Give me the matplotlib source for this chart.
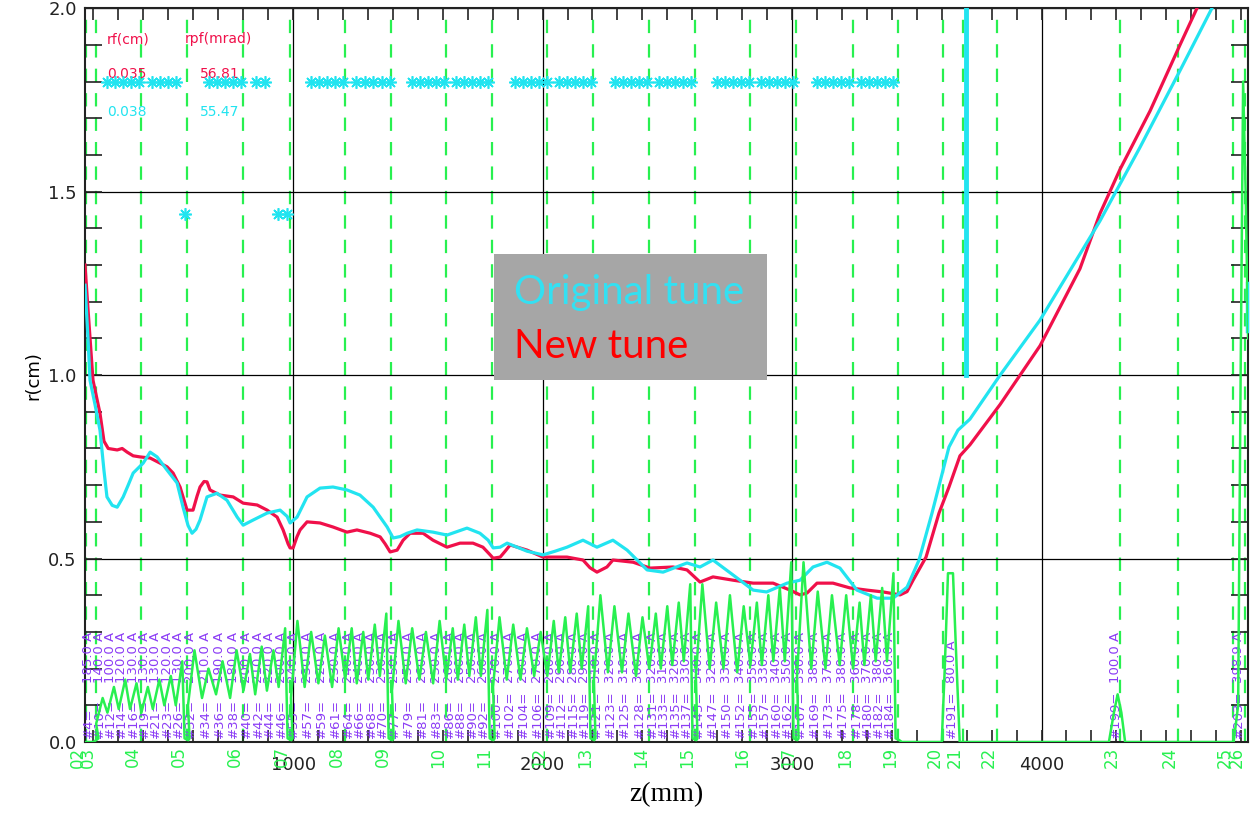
import numpy as np
import matplotlib.pyplot as plt
from matplotlib.ticker import MultipleLocator
from matplotlib.patches import Rectangle
import matplotlib.transforms as mtransforms

RED = '#f0104a'
CYAN = '#22e4f0'
GREEN = '#28f050'
PURPLE = '#8b3cf5'

# beamline elements (green dashed markers), z in mm
elem_names = ['02', '03', '04', '05', '06', '07', '08', '09', '10', '11', '12', '13', '14',
              '15', '16', '17', '18', '19', '20', '21', '22', '23', '24', '25', '26']
elem_z = [170, 210, 391, 575, 800, 988, 1208, 1393, 1613, 1798, 2018, 2202, 2427,
          2611, 2832, 3016, 3244, 3425, 3605, 3685, 3822, 4315, 4547, 4768, 4816]

# beam envelope, new tune
red_z = [166, 178, 198, 226, 242, 259, 295, 315, 335, 359, 387, 427, 467, 495, 519, 547, 567, 575,
         599, 615, 627, 643, 655, 667, 707, 760, 800, 856, 896, 936, 960, 980, 988, 1000, 1016,
         1028, 1056, 1108, 1160, 1216, 1256, 1309, 1349, 1369, 1389, 1417, 1441, 1469, 1521,
         1561, 1617, 1669, 1721, 1761, 1790, 1802, 1830, 1850, 1870, 1938, 2002, 2098, 2162,
         2190, 2218, 2258, 2282, 2363, 2431, 2523, 2579, 2631, 2683, 2764, 2844, 2924, 2992,
         3032, 3060, 3100, 3164, 3232, 3300, 3365, 3433, 3461, 3485, 3509, 3537, 3589, 3629,
         3673, 3713, 3834, 3994, 4154, 4234, 4314, 4435, 4555, 4623, 4680]
red_r = [1.30, 1.18, 0.986, 0.896, 0.82, 0.80, 0.796, 0.80, 0.79, 0.78, 0.777, 0.774, 0.76, 0.75,
         0.733, 0.695, 0.65, 0.632, 0.632, 0.67, 0.695, 0.71, 0.709, 0.687, 0.673, 0.668, 0.651,
         0.646, 0.632, 0.613, 0.578, 0.54, 0.529, 0.529, 0.56, 0.578, 0.60, 0.597, 0.586, 0.572,
         0.578, 0.569, 0.559, 0.54, 0.518, 0.523, 0.55, 0.569, 0.569, 0.55, 0.531, 0.542, 0.542,
         0.531, 0.51, 0.501, 0.504, 0.52, 0.537, 0.523, 0.504, 0.504, 0.496, 0.475, 0.463, 0.477,
         0.496, 0.49, 0.474, 0.477, 0.469, 0.436, 0.45, 0.441, 0.433, 0.433, 0.414, 0.401, 0.406,
         0.433, 0.433, 0.42, 0.414, 0.409, 0.401, 0.41, 0.441, 0.47, 0.504, 0.624, 0.695, 0.78,
         0.81, 0.92, 1.08, 1.29, 1.44, 1.56, 1.72, 1.90, 2.0, 2.1]

# beam envelope, original tune
cyan_z = [166, 178, 186, 206, 226, 242, 254, 275, 295, 319, 339, 359, 399, 427, 455, 495, 535,
          559, 579, 595, 611, 627, 655, 695, 735, 776, 800, 840, 896, 948, 976, 988, 1016, 1056,
          1108, 1160, 1216, 1268, 1321, 1377, 1401, 1429, 1457, 1497, 1561, 1617, 1697, 1749,
          1782, 1802, 1830, 1858, 1938, 2002, 2050, 2098, 2162, 2218, 2282, 2339, 2419, 2483,
          2579, 2631, 2683, 2764, 2844, 2898, 2980, 3032, 3084, 3140, 3192, 3260, 3341, 3405,
          3461, 3509, 3561, 3629, 3665, 3713, 3834, 3994, 4154, 4234, 4394, 4555, 4683, 4720]
cyan_r = [1.245, 1.10, 0.986, 0.92, 0.85, 0.74, 0.668, 0.645, 0.64, 0.668, 0.70, 0.733, 0.76,
          0.79, 0.777, 0.741, 0.706, 0.64, 0.59, 0.569, 0.58, 0.605, 0.668, 0.678, 0.659, 0.613,
          0.591, 0.605, 0.624, 0.632, 0.615, 0.597, 0.613, 0.668, 0.692, 0.695, 0.687, 0.673,
          0.64, 0.586, 0.556, 0.56, 0.569, 0.578, 0.572, 0.564, 0.583, 0.569, 0.55, 0.529, 0.531,
          0.542, 0.52, 0.51, 0.52, 0.531, 0.55, 0.531, 0.55, 0.523, 0.469, 0.463, 0.488, 0.477,
          0.496, 0.455, 0.414, 0.409, 0.433, 0.441, 0.477, 0.49, 0.474, 0.414, 0.392, 0.392,
          0.422, 0.496, 0.624, 0.804, 0.85, 0.88, 1.0, 1.15, 1.33, 1.42, 1.62, 1.83, 2.0, 2.06]
cyan_bar_z = [3697, 3697]
cyan_bar_r = [1.0, 2.0]
cyan_edge_z = [4822, 4822]
cyan_edge_r = [1.12, 1.25]

# solenoid currents: 8 coils per pair of element gaps from 03 to 19
coil_ids = [10, 12, 14, 16, 19, 21, 23, 26,
            32, 34, 36, 38, 40, 42, 44, 46,
            55, 57, 59, 61, 64, 66, 68, 70,
            77, 79, 81, 83, 86, 88, 90, 92,
            100, 102, 104, 106, 109, 112, 115, 119,
            121, 123, 125, 128, 131, 133, 135, 137,
            145, 147, 150, 152, 155, 157, 160, 162,
            167, 169, 173, 175, 178, 180, 182, 184]
coil_amps = [140.0, 100.0, 120.0, 130.0, 130.0, 130.0, 120.0, 130.0,
             200.0, 210.0, 190.0, 180.0, 200.0, 210.0, 220.0, 200.0,
             240.0, 230.0, 220.0, 230.0, 240.0, 240.0, 230.0, 230.0,
             250.0, 250.0, 260.0, 250.0, 260.0, 260.0, 250.0, 260.0,
             270.0, 270.0, 280.0, 270.0, 280.0, 290.0, 280.0, 290.0,
             310.0, 320.0, 310.0, 300.0, 320.0, 310.0, 320.0, 330.0,
             340.0, 320.0, 330.0, 340.0, 350.0, 330.0, 340.0, 350.0,
             390.0, 380.0, 370.0, 380.0, 360.0, 370.0, 380.0, 360.0]
extra_ids = [4, 191, 199, 203]
extra_amps = [185.0, 80.0, 100.0, 398.9]
extra_z = [180, 3640, 4298, 4790]

# field profile (green): peak and valley heights per coil
green_peak = [0.12, 0.15, 0.17, 0.16, 0.15, 0.17, 0.18, 0.22,
              0.25, 0.20, 0.22, 0.25, 0.24, 0.26, 0.25, 0.31,
              0.33, 0.30, 0.29, 0.31, 0.31, 0.30, 0.32, 0.35,
              0.33, 0.31, 0.30, 0.33, 0.31, 0.32, 0.34, 0.36,
              0.34, 0.32, 0.31, 0.30, 0.33, 0.34, 0.35, 0.37,
              0.40, 0.37, 0.35, 0.34, 0.35, 0.37, 0.38, 0.43,
              0.43, 0.38, 0.40, 0.37, 0.38, 0.40, 0.42, 0.49,
              0.49, 0.41, 0.40, 0.40, 0.38, 0.40, 0.42, 0.46]
green_valley = [0.05, 0.08, 0.09, 0.09, 0.08, 0.09, 0.10, 0.10,
                0.10, 0.12, 0.13, 0.12, 0.14, 0.13, 0.14, 0.15,
                0.12, 0.15, 0.16, 0.15, 0.17, 0.16, 0.17, 0.18,
                0.14, 0.16, 0.17, 0.16, 0.17, 0.17, 0.18, 0.18,
                0.15, 0.17, 0.17, 0.18, 0.18, 0.19, 0.19, 0.20,
                0.17, 0.19, 0.19, 0.18, 0.20, 0.20, 0.21, 0.22,
                0.18, 0.20, 0.20, 0.19, 0.21, 0.21, 0.22, 0.22,
                0.18, 0.20, 0.20, 0.21, 0.20, 0.21, 0.22, 0.22]
green_tail_z = [3440, 3600, 3612, 3625, 3645, 3660, 3672, 4270, 4290, 4305, 4320, 4335,
                4770, 4788, 4798, 4808, 4818, 4828]
green_tail_r = [0.0, 0.0, 0.2, 0.46, 0.46, 0.2, 0.0, 0.0, 0.08, 0.13, 0.08, 0.0,
                0.0, 0.1, 1.0, 1.8, 1.5, 1.1]

# cyan asterisks (aperture markers)
star_hi_z = [254, 287, 319, 351, 383, 435, 467, 499, 531,
             663, 695, 727, 760, 792, 852, 888,
             1072, 1104, 1136, 1168, 1200, 1253, 1289, 1321, 1357, 1389,
             1477, 1509, 1541, 1573, 1605, 1653, 1685, 1718, 1750, 1782,
             1890, 1922, 1954, 1986, 2018, 2066, 2098, 2130, 2162, 2194,
             2290, 2322, 2354, 2386, 2418, 2466, 2498, 2530, 2562, 2594,
             2700, 2732, 2764, 2796, 2828, 2876, 2908, 2940, 2972, 3004,
             3100, 3132, 3164, 3196, 3228, 3276, 3308, 3340, 3372, 3404]
star_lo_z = [567, 940, 976]

fig = plt.figure(figsize=(12.52, 8.19), dpi=100)
ax = fig.add_axes([0.0679, 0.094, 0.929, 0.896])
ax.set_xlim(166, 4828)
ax.set_ylim(0, 2.0)

for z in elem_z:
    ax.axvline(z, color=GREEN, lw=1.6, ls=(0, (6, 5)), zorder=1)

ax.set_xticks([1000, 2000, 3000, 4000])
ax.set_yticks([0.0, 0.5, 1.0, 1.5, 2.0])
ax.xaxis.set_minor_locator(MultipleLocator(100))
ax.yaxis.set_minor_locator(MultipleLocator(0.1))
ax.grid(True, which='major', color='black', lw=0.9, zorder=1.5)
ax.tick_params(which='both', direction='in', top=True, right=True, colors='#222222',
               labelsize=13, width=1.2)
ax.tick_params(axis='x', which='both', length=8.5, pad=10)
ax.tick_params(axis='y', which='both', length=12, pad=6)
for s in ax.spines.values():
    s.set_color('#222222')
    s.set_linewidth(1.5)

ax.set_xlabel('z(mm)', family='Liberation Serif', fontsize=20, labelpad=6)
ax.set_ylabel('r(cm)', fontsize=13, labelpad=4)

bt = mtransforms.blended_transform_factory(ax.transData, ax.transAxes)
for name, z in zip(elem_names, elem_z):
    ax.text(z + 4, -0.006, name, transform=bt, rotation=90, ha='right', va='top',
            color=GREEN, fontsize=12, clip_on=False)

# coil positions: 4 per gap between consecutive elements 03..19
coil_z = []
for i in range(1, 17):
    z0, z1 = elem_z[i], elem_z[i + 1]
    for f in [0.07, 0.32, 0.57, 0.82]:
        coil_z.append(z0 + f * (z1 - z0))

for z, cid, amp in zip(coil_z + extra_z, coil_ids + extra_ids, coil_amps + extra_amps):
    ax.text(z, 0.012, '#%d=' % cid, rotation=90, ha='center', va='bottom',
            color=PURPLE, fontsize=9.5, zorder=3)
    ax.text(z, 0.16, '%.1f A' % amp, rotation=90, ha='center', va='bottom',
            color=PURPLE, fontsize=9.5, zorder=3)

# green field profile
gz, gr = [166, 200], [0.0, 0.0]
for s in range(8):
    zs, ze = elem_z[1 + 2 * s], elem_z[3 + 2 * s]
    gz += [zs + 10]
    gr += [0.01]
    for k in range(8):
        j = 8 * s + k
        gz += [coil_z[j] - 12, coil_z[j] + 14]
        gr += [green_valley[j], green_peak[j]]
    gz += [ze - 10, ze + 5]
    gr += [0.01, 0.005]
gz += green_tail_z
gr += green_tail_r

ax.plot(red_z, red_r, color=RED, lw=2.3, zorder=4, clip_on=True)
ax.plot(cyan_z, cyan_r, color=CYAN, lw=2.3, zorder=5, clip_on=True)
ax.plot(cyan_bar_z, cyan_bar_r, color=CYAN, lw=3.5, zorder=5)
ax.plot(cyan_edge_z, cyan_edge_r, color=CYAN, lw=2.5, zorder=5, clip_on=False)
ax.plot(gz, gr, color=GREEN, lw=1.8, zorder=6)

ax.plot(star_hi_z, [1.8] * len(star_hi_z), ls='none', marker=(8, 2, 0), ms=9, mew=1.2,
        color=CYAN, zorder=5)
ax.plot(star_lo_z, [1.44] * len(star_lo_z), ls='none', marker=(8, 2, 0), ms=9, mew=1.2,
        color=CYAN, zorder=5)

# rf / rpf table
ax.text(0.019, 0.958, 'rf(cm)', transform=ax.transAxes, color=RED, fontsize=10, va='center')
ax.text(0.086, 0.958, 'rpf(mrad)', transform=ax.transAxes, color=RED, fontsize=10, va='center')
ax.text(0.019, 0.910, '0.035', transform=ax.transAxes, color=RED, fontsize=10, va='center')
ax.text(0.099, 0.910, '56.81', transform=ax.transAxes, color=RED, fontsize=10, va='center')
ax.text(0.019, 0.859, '0.038', transform=ax.transAxes, color=CYAN, fontsize=10, va='center')
ax.text(0.099, 0.859, '55.47', transform=ax.transAxes, color=CYAN, fontsize=10, va='center')

# legend box
fig.add_artist(Rectangle((0.3946, 0.536), 0.218, 0.154, transform=fig.transFigure,
                         facecolor='#a6a6a6', edgecolor='none', zorder=10))
fig.text(0.4105, 0.643, 'Original tune', color='#33e0f2', fontsize=29, family='Lato',
         va='center', zorder=11)
fig.text(0.4105, 0.577, 'New tune', color='#ff0000', fontsize=29, family='Lato',
         va='center', zorder=11)

fig.savefig('out.png', dpi=100)
